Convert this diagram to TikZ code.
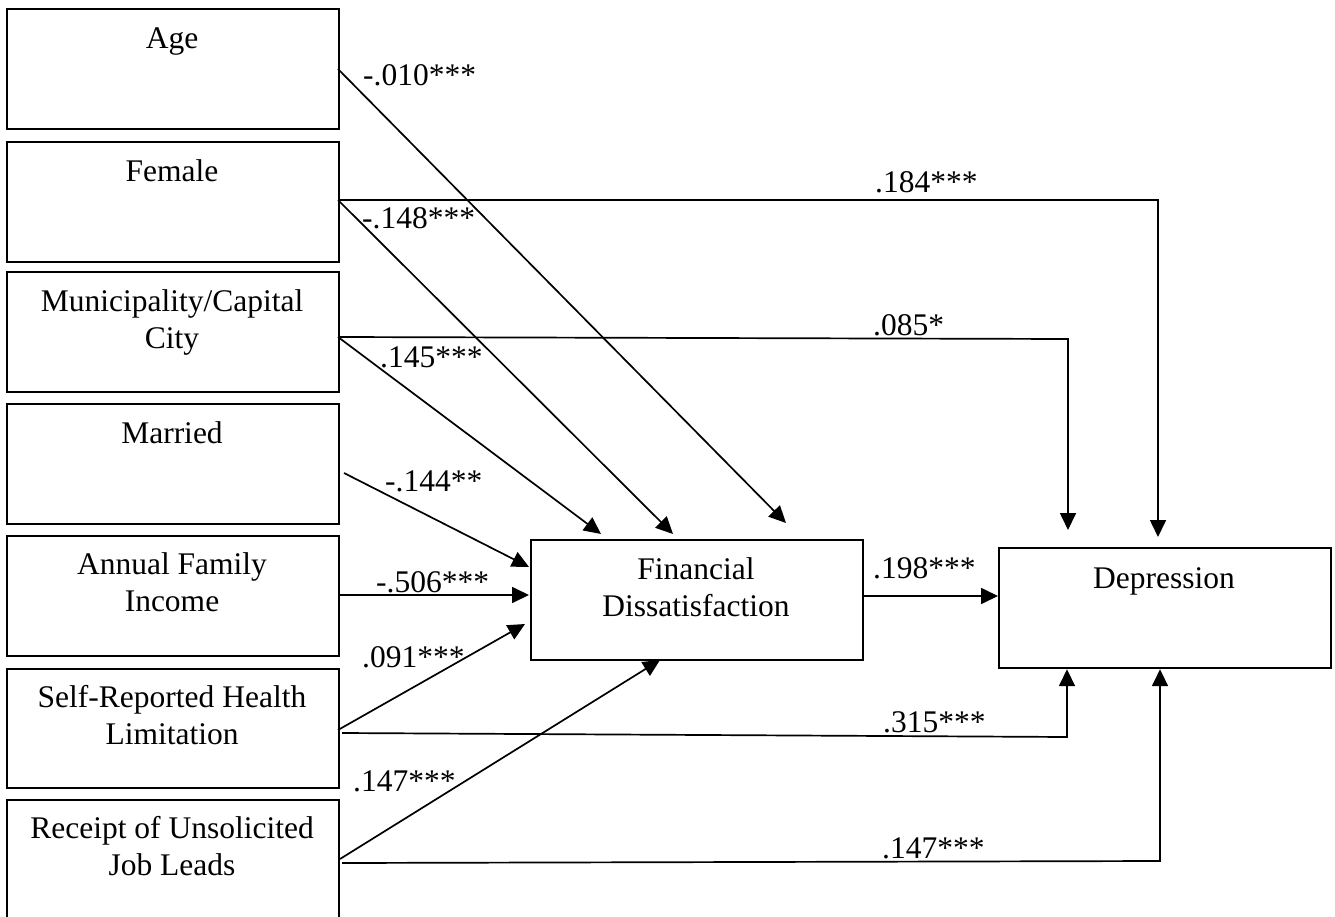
\documentclass[tikz,border=0pt]{standalone}
\usepackage{fontspec}
\setmainfont{Liberation Serif}
\usetikzlibrary{arrows.meta,calc}
\begin{document}
\begin{tikzpicture}[x=1pt,y=-1pt,
  box/.style={draw,line width=2.2pt,inner sep=0pt,anchor=north west},
  boxtext/.style={anchor=base,align=center,inner sep=0pt,font=\fontsize{31.5}{37}\selectfont},
  coef/.style={anchor=base west,inner sep=0pt,font=\fontsize{31.5}{37}\selectfont},
  arr/.style={line width=1.7pt,-{Triangle[length=17pt,width=16pt]}}]
\useasboundingbox (0,0) rectangle (1335,917);
% boxes
\node[box,minimum width=332pt,minimum height=120pt] (age) at (6,8) {};
\node[box,minimum width=332pt,minimum height=120pt] (fem) at (6,141) {};
\node[box,minimum width=332pt,minimum height=120pt] (mun) at (6,271) {};
\node[box,minimum width=332pt,minimum height=120pt] (mar) at (6,403) {};
\node[box,minimum width=332pt,minimum height=120pt] (inc) at (6,535) {};
\node[box,minimum width=332pt,minimum height=119pt] (hea) at (6,668) {};
\node[box,minimum width=332pt,minimum height=120pt] (job) at (6,799) {};
\node[box,minimum width=332pt,minimum height=120pt] (fin) at (530,539) {};
\node[box,minimum width=332pt,minimum height=120pt] (dep) at (998,547) {};
% texts (base anchor = last line)
\node[boxtext] (tage) at (172,49) {Age};
\node[boxtext] (tfem) at (172,182) {Female};
\node[boxtext] (tmun) at (172,348) {Municipality/Capital\\City};
\node[boxtext] (tmar) at (172,443) {Married};
\node[boxtext] (tinc) at (172,611) {Annual Family\\Income};
\node[boxtext] (thea) at (172,744) {Self-Reported Health\\Limitation};
\node[boxtext] (tjob) at (172,875) {Receipt of Unsolicited\\Job Leads};
\node[boxtext] (tfin) at (696,616) {Financial\\Dissatisfaction};
\node[boxtext] (tdep) at (1164,588) {Depression};
% connector points
\coordinate (agS) at (338,69);
\coordinate (agE) at (786,523);
\coordinate (feS) at (338,200);
\coordinate (feE) at (673,534);
\coordinate (feC) at (1158,200);
\coordinate (muS) at (338,337);
\coordinate (muE) at (601,534);
\coordinate (muC) at (1068,339);
\coordinate (maS) at (344,473);
\coordinate (maE) at (529,567);
\coordinate (inE) at (529,595);
\coordinate (heS) at (338,730);
\coordinate (heE) at (525,624);
\coordinate (heS2) at (342,733);
\coordinate (heC) at (1067,737);
\coordinate (joS) at (340,859);
\coordinate (joE) at (660,660);
\coordinate (joS2) at (342,863);
\coordinate (joC) at (1160,861);
% arrows to financial dissatisfaction
\draw[arr] (agS) -- (agE);
\draw[arr] (feS) -- (feE);
\draw[arr] (muS) -- (muE);
\draw[arr] (maS) -- (maE);
\draw[arr] (inc.east |- inE) -- (inE);
\draw[arr] (heS) -- (heE);
\draw[arr] (joS) -- (joE);
% arrows to depression
\draw[arr] (feS) -- (feC) -- (feC |- 0,537);
\draw[arr] (muS) -- (muC) -- (muC |- 0,530);
\draw[arr] (heS2) -- (heC) -- (heC |- dep.south);
\draw[arr] (joS2) -- (joC) -- (joC |- dep.south);
\draw[arr] (fin.east |- 0,596) -- (dep.west |- 0,596);
% coefficients
\node[coef] (c1) at (363,86) {-.010***};
\node[coef] (c2) at (362,229) {-.148***};
\node[coef] (c3) at (380,367) {.145***};
\node[coef] (c4) at (385,491) {-.144**};
\node[coef] (c5) at (376,592) {-.506***};
\node[coef] (c6) at (362,667) {.091***};
\node[coef] (c7) at (353,791) {.147***};
\node[coef] (c8) at (875,193) {.184***};
\node[coef] (c9) at (873,335) {.085*};
\node[coef] (c10) at (873,578) {.198***};
\node[coef] (c11) at (883,732) {.315***};
\node[coef] (c12) at (882,858) {.147***};
\end{tikzpicture}
\end{document}
